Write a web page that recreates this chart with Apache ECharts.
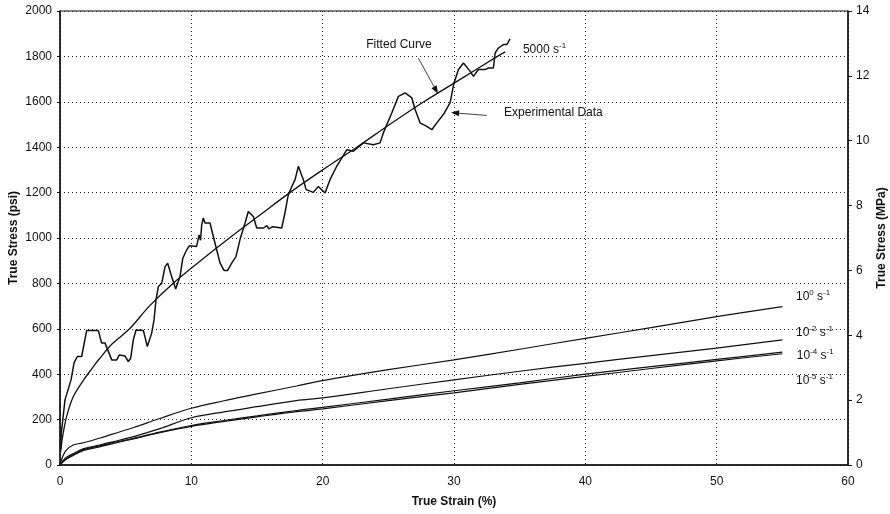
<!DOCTYPE html>
<html>
<head>
<meta charset="utf-8">
<script src="https://cdn.jsdelivr.net/npm/echarts@6/dist/echarts.min.js"></script>
<style>
  html, body { margin: 0; padding: 0; background: #fff; }
  #chart { width: 890px; height: 514px; }
</style>
</head>
<body>
<div id="chart"></div>
<script>
// 5000 1/s experimental record: true strain (%) and true stress (psi)
const expStrain = [0.05, 0.1, 0.38, 0.84, 1.07, 1.32, 1.65, 2.03, 2.92, 3.17, 3.43, 3.94, 4.32, 4.52, 4.95, 5.2, 5.38, 5.58, 5.79, 6.35, 6.65, 6.8, 6.98, 7.16, 7.31, 7.49, 7.75, 8.0, 8.2, 8.5, 8.81, 9.14, 9.35, 9.65, 9.85, 10.4, 10.59, 10.7, 10.79, 10.91, 11.04, 11.42, 11.8, 12.19, 12.49, 12.77, 13.07, 13.4, 13.7, 14.09, 14.34, 14.72, 14.98, 15.5, 15.75, 15.9, 16.2, 16.88, 17.13, 17.31, 17.39, 17.65, 17.9, 18.15, 18.28, 18.53, 18.74, 19.29, 19.67, 20.18, 20.56, 21.07, 21.84, 22.34, 23.1, 23.86, 24.37, 24.62, 25.26, 25.77, 26.28, 26.79, 27.04, 27.42, 27.93, 28.31, 28.69, 29.19, 29.7, 30.0, 30.34, 30.72, 31.23, 31.48, 31.86, 32.37, 32.62, 33.0, 33.13, 33.38, 33.76, 34.02, 34.27];
const expStress = [70, 140, 287, 375, 450, 478, 478, 592, 592, 537, 537, 463, 463, 485, 480, 456, 470, 551, 595, 592, 522, 522, 581, 639, 728, 786, 801, 874, 889, 830, 775, 830, 911, 948, 966, 963, 1014, 990, 1058, 1088, 1066, 1066, 978, 889, 857, 857, 889, 918, 992, 1066, 1117, 1095, 1044, 1044, 1055, 1040, 1050, 1044, 1110, 1169, 1191, 1227, 1257, 1316, 1310, 1257, 1213, 1201, 1227, 1198, 1257, 1316, 1389, 1382, 1419, 1411, 1419, 1463, 1551, 1624, 1639, 1617, 1566, 1507, 1492, 1477, 1507, 1544, 1595, 1683, 1742, 1771, 1734, 1712, 1742, 1742, 1749, 1749, 1815, 1837, 1852, 1852, 1877];

// fitted curve through the 5000 1/s record
const fitStrain = [0.05, 0.2, 0.5, 1, 1.8, 2.5, 3, 4, 5.3, 6.8, 8.6, 10.7, 12.9, 15.2, 17.5, 20, 22.6, 25.1, 27.7, 30.5, 33.3, 33.9];
const fitStress = [60, 125, 213, 300, 375, 430, 468, 535, 600, 700, 800, 900, 1000, 1100, 1200, 1300, 1400, 1500, 1600, 1700, 1800, 1820];

// quasi-static records, common strain stations
const lowStrain = [0, 0.4, 1, 1.8, 3, 4, 5.6, 7.6, 10, 12.5, 15, 18, 20, 25, 30, 35, 40, 45, 50, 55];
const rate1e0 = [0, 60, 88, 98, 118, 136, 165, 205, 250, 283, 313, 348, 372, 420, 463, 510, 558, 605, 654, 698];
const rate1e2 = [0, 30, 50, 72, 88, 102, 125, 160, 208, 234, 257, 284, 296, 336, 375, 413, 448, 482, 515, 551];
const rate1e4 = [0, 25, 45, 68, 84, 98, 118, 145, 174, 196, 216, 240, 254, 290, 327, 362, 400, 433, 465, 497];
const rate1e5 = [0, 22, 42, 64, 80, 94, 115, 142, 170, 192, 212, 235, 247, 284, 318, 355, 390, 425, 459, 490];

const xTicks = { min: 0, max: 60, step: 10 };
const psiTicks = { min: 0, max: 2000, step: 200 };
const mpaTicks = { min: 0, max: 14, step: 2 };

const zip = (xs, ys) => xs.map((x, i) => [x, ys[i]]);

const FONT = 'Liberation Sans, Arial, sans-serif';
const INK = '#111';

const chart = echarts.init(document.getElementById('chart'), null, { renderer: 'canvas' });

function curve(name, xs, ys, width, smooth) {
  return {
    name, type: 'line', data: zip(xs, ys), showSymbol: false, smooth: smooth ? 0.35 : false,
    lineStyle: { color: INK, width: width }, silent: true, animation: false, z: 3
  };
}

const arrowLine = (from, to) => ({
  type: 'line', data: [], silent: true, animation: false,
  markLine: {
    silent: true, animation: false, symbol: ['none', 'triangle'], symbolSize: [6, 8],
    label: { show: false },
    lineStyle: { color: INK, width: 0.8, type: 'solid' },
    data: [[{ coord: from }, { coord: to }]]
  }
});

const plain = v => String(v);

chart.setOption({
  backgroundColor: '#fff',
  animation: false,
  grid: { left: 60, right: 42, top: 11, bottom: 49, show: true, borderColor: INK, borderWidth: 1, outerBoundsMode: 'none' },
  xAxis: {
    type: 'value', min: xTicks.min, max: xTicks.max, interval: xTicks.step,
    name: 'True Strain (%)', nameLocation: 'middle', nameGap: 31, nameMoveOverlap: false,
    nameTextStyle: { fontFamily: FONT, fontSize: 12, fontWeight: 'bold', color: INK },
    axisLine: { lineStyle: { color: INK, width: 1.5 } },
    axisTick: { show: false },
    axisLabel: { fontFamily: FONT, fontSize: 12, color: INK, margin: 11, formatter: plain },
    splitLine: { show: true, lineStyle: { color: '#222', width: 1, type: [1, 3] } }
  },
  yAxis: [
    {
      type: 'value', min: psiTicks.min, max: psiTicks.max, interval: psiTicks.step,
      name: 'True Stress (psi)', nameLocation: 'middle', nameGap: 40, nameRotate: 90, nameMoveOverlap: false,
      nameTextStyle: { fontFamily: FONT, fontSize: 12, fontWeight: 'bold', color: INK },
      axisLine: { show: true, lineStyle: { color: INK, width: 1.5 } },
      axisTick: { show: true, length: 3, lineStyle: { color: INK } },
      axisLabel: { fontFamily: FONT, fontSize: 12, color: INK, margin: 8, formatter: plain },
      splitLine: { show: true, lineStyle: { color: '#222', width: 1, type: [1, 3] } }
    },
    {
      type: 'value', position: 'right', min: mpaTicks.min, max: mpaTicks.max, interval: mpaTicks.step,
      name: 'True Stress (MPa)', nameLocation: 'middle', nameGap: 28, nameRotate: 90, nameMoveOverlap: false,
      nameTextStyle: { fontFamily: FONT, fontSize: 12, fontWeight: 'bold', color: INK },
      axisLine: { show: true, lineStyle: { color: INK, width: 1.5 } },
      axisTick: { show: true, length: 4, lineStyle: { color: INK } },
      axisLabel: { fontFamily: FONT, fontSize: 12, color: INK, margin: 8, formatter: plain },
      splitLine: { show: false }
    }
  ],
  series: [
    curve('1e0', lowStrain, rate1e0, 1.2, true),
    curve('1e-2', lowStrain, rate1e2, 1.2, true),
    curve('1e-4', lowStrain, rate1e4, 1.2, true),
    curve('1e-5', lowStrain, rate1e5, 1.2, true),
    curve('fitted', fitStrain, fitStress, 1.3, true),
    curve('experimental', expStrain, expStress, 1.5, false),
    arrowLine([27.28, 1793], [28.63, 1651]),
    arrowLine([32.49, 1540], [30.08, 1551])
  ]
});

// text annotations anchored in data space
const rich = {
  n: { fontFamily: FONT, fontSize: 12, color: INK, lineHeight: 14, verticalAlign: 'bottom' },
  s: { fontFamily: FONT, fontSize: 8, color: INK, lineHeight: 14, verticalAlign: 'top' }
};
const notes = [
  { at: [25.81, 1852], text: 'Fitted Curve', align: 'center' },
  { at: [35.25, 1835], text: '{n|5000 s}{s|-1}', align: 'left' },
  { at: [33.81, 1552], text: 'Experimental Data', align: 'left' },
  { at: [56.04, 745], text: '{n|10}{s|0}{n| s}{s|-1}', align: 'left' },
  { at: [56.04, 588], text: '{n|10}{s|-2}{n| s}{s|-1}', align: 'left' },
  { at: [56.1, 485], text: '{n|10}{s|-4}{n| s}{s|-1}', align: 'left' },
  { at: [56.04, 375], text: '{n|10}{s|-5}{n| s}{s|-1}', align: 'left' }
];
chart.setOption({
  graphic: notes.map(n => {
    const p = chart.convertToPixel({ xAxisIndex: 0, yAxisIndex: 0 }, n.at);
    return {
      type: 'text', x: p[0], y: p[1], silent: true,
      style: {
        text: n.text, rich: rich, fontFamily: FONT, fontSize: 12, fill: INK,
        align: n.align, verticalAlign: 'middle'
      }
    };
  })
});
</script>
</body>
</html>
